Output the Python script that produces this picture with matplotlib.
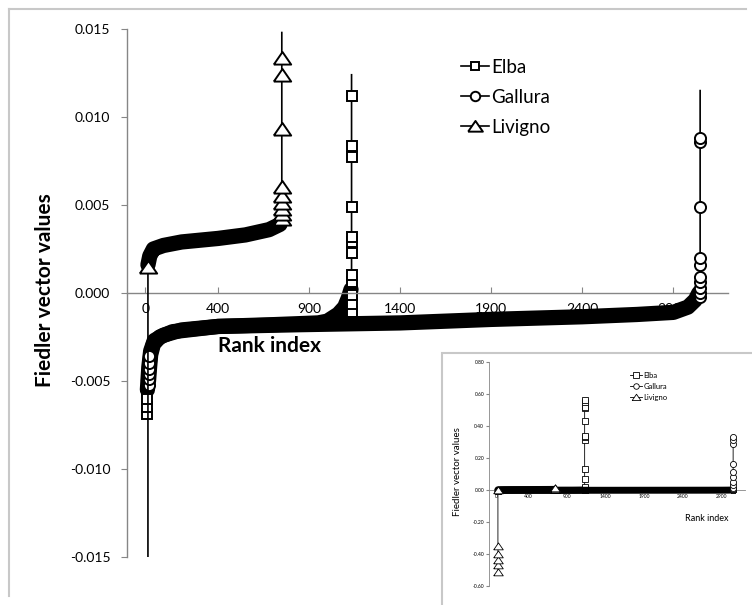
import matplotlib.pyplot as plt
from matplotlib.patches import Rectangle
from matplotlib.lines import Line2D

plt.rcParams['font.family'] = ['Lato', 'DejaVu Sans']

# dense sorted part of each Fiedler vector (rank index, value)
elba_rank = [12, 20, 30, 50, 100, 200, 400, 700, 950, 1000, 1060, 1095, 1115, 1130]
elba_val = [-0.0055, -0.0042, -0.0033, -0.0027, -0.0024, -0.0021, -0.0019, -0.0018,
            -0.0017, -0.0016, -0.0012, -0.0008, -0.0003, 0.0002]
gall_rank = [18, 24, 30, 45, 80, 150, 400, 850, 1400, 1900, 2400, 2700, 2900, 2980, 3020, 3040]
gall_val = [-0.0050, -0.0042, -0.0035, -0.0029, -0.0025, -0.0022, -0.0019, -0.0018,
            -0.0017, -0.0015, -0.00135, -0.00122, -0.0011, -0.0008, -0.0004, 0.0000]
liv_rank = [15, 25, 45, 100, 200, 400, 550, 680, 740]
liv_val = [0.0016, 0.0021, 0.0025, 0.0027, 0.0029, 0.0031, 0.0033, 0.0036, 0.0039]

# extreme points (rank index of the jump, values)
elba_lo_rank = 12
elba_lo = [-0.0069, -0.0065, -0.0060]
elba_hi_rank = 1133
elba_hi = [-0.0011, -0.0006, -0.0001, 0.0006, 0.0010, 0.0023, 0.0029, 0.0032,
           0.0049, 0.00775, 0.00835, 0.0112]
elba_top = 0.0124
elba_big = [0.02, 0.07, 0.13, 0.31, 0.33, 0.34, 0.43, 0.51, 0.52, 0.55, 0.56]

gall_lo_rank = 20
gall_lo = [-0.0052, -0.0049, -0.0046, -0.0043, -0.0040, -0.0036]
gall_hi_rank = 3047
gall_hi = [-0.0002, 0.0000, 0.0003, 0.0006, 0.0009, 0.0016, 0.0020, 0.0049, 0.0086, 0.0088]
gall_top = 0.0115
gall_big = [0.01, 0.03, 0.05, 0.08, 0.11, 0.16, 0.29, 0.31, 0.33]

liv_lo_rank = 15
liv_lo = [-0.51, -0.47, -0.44, -0.40, -0.35, 0.0015]
liv_hi_rank = 750
liv_hi = [0.0042, 0.0045, 0.0048, 0.0051, 0.0055, 0.0060, 0.0093, 0.0124, 0.01335]
liv_top = 0.0148

names = ['Elba', 'Gallura', 'Livigno']
xticks = [0, 400, 900, 1400, 1900, 2400, 2900]
main_yticks = [-0.015, -0.010, -0.005, 0.0, 0.005, 0.010, 0.015]
inset_yticks = [-0.6, -0.4, -0.2, 0.0, 0.2, 0.4, 0.6, 0.8]

tri = [(-1, -0.7), (1, -0.7), (0, 0.75), (-1, -0.7)]
markers = ['s', 'o', tri]
msizes = [7.5, 8.0, 12.5]
spine_col = '#868686'

W, H = 752, 605
fig = plt.figure(figsize=(W / 100, H / 100), dpi=100)

def fx(px):
    return px / W

def fy(py):
    return 1 - py / H

# outer chart border (top and left visible)
fig.add_artist(Line2D([fx(9), fx(9)], [fy(9), fy(596)], color='#c8c8c8', lw=1.5))
fig.add_artist(Line2D([fx(9), fx(746)], [fy(9), fy(9)], color='#c8c8c8', lw=1.5))

series = [
    (elba_rank, elba_val, elba_lo_rank, elba_lo, elba_hi_rank, elba_hi, elba_top, elba_big),
    (gall_rank, gall_val, gall_lo_rank, gall_lo, gall_hi_rank, gall_hi, gall_top, gall_big),
    (liv_rank, liv_val, liv_lo_rank, liv_lo, liv_hi_rank, liv_hi, liv_top, []),
]


def draw(ax, inset):
    for i, (br, bv, lr, lo, hr, hi, top, big) in enumerate(series):
        if inset:
            hi_vals = hi + big
            tail = []
            body_lw, thin, ms, mew = 5.0, 0.6, msizes[i] * 0.55, 0.6
        else:
            hi_vals = hi
            tail = [top]
            body_lw, thin, ms, mew = 11.0, 1.2, msizes[i], 1.4
        xs = [lr] * len(lo) + br + [hr] * (len(hi_vals) + len(tail))
        ys = lo + bv + hi_vals + tail
        ax.plot(br, bv, color='black', lw=body_lw, solid_capstyle='round',
                solid_joinstyle='round', zorder=2 + i)
        ax.plot(xs, ys, color='black', lw=thin, zorder=2 + i)
        ax.plot([lr] * len(lo) + [hr] * len(hi_vals), lo + hi_vals, ls='none',
                marker=markers[i], ms=ms, mfc='white', mec='black', mew=mew,
                zorder=2 + i)


def style(ax, yticks, fs, tick_len, xpad, ypad):
    ax.set_xlim(-100, 3200)
    ax.set_xticks(xticks)
    ax.set_xticklabels([str(t) for t in xticks])
    ax.set_yticks(yticks)
    ax.spines['bottom'].set_position(('data', 0))
    for s in ['top', 'right']:
        ax.spines[s].set_visible(False)
    for s in ['bottom', 'left']:
        ax.spines[s].set_color(spine_col)
        ax.spines[s].set_linewidth(1.0 if fs > 5 else 0.6)
    ax.tick_params(axis='x', direction='in', length=tick_len, color=spine_col,
                   labelsize=fs, pad=xpad)
    ax.tick_params(axis='y', direction='out', length=tick_len, color=spine_col,
                   labelsize=fs, pad=ypad)
    ax.set_axisbelow(True)
    ax.patch.set_alpha(0)


# main chart
ax = fig.add_axes([fx(127), fy(557), fx(728) - fx(127), fy(29) - fy(557)])
draw(ax, False)
ax.set_ylim(-0.015, 0.015)
style(ax, main_yticks, 10, 4, 7, 8)
ax.set_yticklabels(['%.3f' % v for v in main_yticks])

fig.text(fx(45), fy(290), 'Fiedler vector values', rotation=90, ha='center',
         va='center', fontsize=15, fontweight='bold')
fig.text(fx(270), fy(346), 'Rank index', ha='center', va='center',
         fontsize=15, fontweight='bold')

handles = [Line2D([], [], color='black', lw=1.2, marker=markers[i], ms=msizes[i] * 0.85,
                  mfc='white', mec='black', mew=1.4) for i in range(3)]
fig.legend(handles, names, loc='upper left', bbox_to_anchor=(fx(461), fy(59)),
           frameon=False, fontsize=13.5, handlelength=1.5, handletextpad=0.12,
           labelspacing=0.68, borderpad=0, borderaxespad=0)

# inset copy of the full-range chart
fig.add_artist(Rectangle((fx(442), fy(640)), fx(800) - fx(442), fy(353) - fy(640),
                         facecolor='white', edgecolor='#c8c8c8', lw=1.5, zorder=5))
ins = fig.add_axes([fx(489), fy(586), fx(745) - fx(489), fy(362) - fy(586)], zorder=6)
draw(ins, True)
ins.set_ylim(-0.6, 0.8)
style(ins, inset_yticks, 3.6, 2, 3, 1.5)
ins.set_yticklabels(['%.2f' % v for v in inset_yticks])
ins.text(0.85, 0.3, 'Rank index', transform=ins.transAxes, ha='center',
         va='center', fontsize=6.5)
fig.text(fx(457), fy(472), 'Fiedler vector values', rotation=90, ha='center',
         va='center', fontsize=7, zorder=7)
ihandles = [Line2D([], [], color='black', lw=0.6, marker=markers[i], ms=msizes[i] * 0.5,
                   mfc='white', mec='black', mew=0.6) for i in range(3)]
leg = ins.legend(ihandles, names, loc='upper left', bbox_to_anchor=(fx(630), fy(372)),
                 bbox_transform=fig.transFigure, frameon=False, fontsize=5.5,
                 handlelength=1.6, handletextpad=0.2, labelspacing=0.5,
                 borderpad=0, borderaxespad=0)

fig.savefig('out.png', dpi=100)
